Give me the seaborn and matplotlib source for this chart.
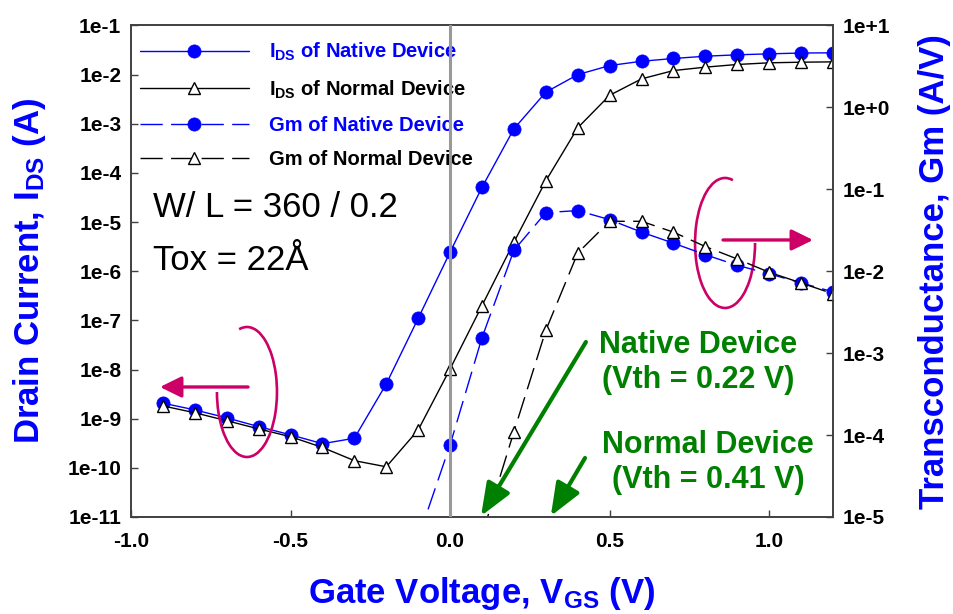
import numpy as np
import pandas as pd
import matplotlib
matplotlib.use("Agg")
import matplotlib.pyplot as plt
import seaborn as sns
from matplotlib.patches import Arc
from matplotlib.ticker import FixedLocator, FuncFormatter, NullLocator

# ---------------- data ----------------
vgs = [-0.9, -0.8, -0.7, -0.6, -0.5, -0.4, -0.3, -0.2, -0.1, 0.0, 0.1,
       0.2, 0.3, 0.4, 0.5, 0.6, 0.7, 0.8, 0.9, 1.0, 1.1, 1.2]
ids_native = [2.07e-9, 1.51e-9, 1.04e-9, 6.9e-10, 4.7e-10, 3.1e-10, 4.0e-10,
              5.1e-9, 1.1e-7, 2.45e-6, 5.1e-5, 7.9e-4, 4.4e-3, 1.0e-2,
              1.53e-2, 1.87e-2, 2.13e-2, 2.37e-2, 2.53e-2, 2.65e-2, 2.75e-2, 2.78e-2]
ids_normal = [1.82e-9, 1.32e-9, 9.1e-10, 6.2e-10, 4.3e-10, 2.6e-10, 1.4e-10,
              1.05e-10, 5.9e-10, 1.03e-8, 2.0e-7, 3.9e-6, 6.9e-5, 8.3e-4,
              3.8e-3, 8.2e-3, 1.21e-2, 1.42e-2, 1.61e-2, 1.74e-2, 1.79e-2, 1.82e-2]

vgs_gm_native = [-0.1, 0.0, 0.1, 0.2, 0.3, 0.4, 0.5, 0.6, 0.7, 0.8, 0.9, 1.0, 1.1, 1.2]
gm_native = [5.5e-6, 7.6e-5, 1.55e-3, 1.8e-2, 5.2e-2, 5.5e-2, 4.26e-2, 3.0e-2,
             2.2e-2, 1.59e-2, 1.18e-2, 9.3e-3, 7.2e-3, 5.6e-3]
vgs_gm_normal = [0.1, 0.2, 0.3, 0.4, 0.5, 0.6, 0.7, 0.8, 0.9, 1.0, 1.1, 1.2]
gm_normal = [6.0e-6, 1.1e-4, 1.9e-3, 1.67e-2, 4.07e-2, 4.07e-2, 3.0e-2, 2.0e-2,
             1.41e-2, 9.7e-3, 7.2e-3, 5.3e-3]

xticks = [-1.0, -0.5, 0.0, 0.5, 1.0]
left_exps = list(range(-11, 0))
right_exps = list(range(-5, 2))

labels = [r"$\mathbf{I_{DS}}$ of Native Device",
          r"$\mathbf{I_{DS}}$ of Normal Device",
          "Gm of Native Device",
          "Gm of Normal Device"]

# ---------------- style ----------------
sns.set_theme(style="white")
plt.rcParams["font.family"] = ["Liberation Sans", "DejaVu Sans"]
plt.rcParams["mathtext.fontset"] = "custom"
plt.rcParams["mathtext.rm"] = "Liberation Sans"
plt.rcParams["mathtext.bf"] = "Liberation Sans:bold"
plt.rcParams["mathtext.it"] = "Liberation Sans:italic"

BLUE = "#0000FF"
GREEN = "#008000"
MAG = "#CC0066"
SPINE = "#404040"

fig = plt.figure(figsize=(9.54, 6.14), dpi=100)
ax = fig.add_axes([0.1373, 0.158, 0.7359, 0.8005])
ax2 = ax.twinx()

df_n = pd.DataFrame({"vgs": vgs, "ids": ids_native})
df_o = pd.DataFrame({"vgs": vgs, "ids": ids_normal})
df_gn = pd.DataFrame({"vgs": vgs_gm_native, "gm": gm_native})
df_go = pd.DataFrame({"vgs": vgs_gm_normal, "gm": gm_normal})

ax.set_yscale("log")
ax2.set_yscale("log")

dash = (0, (16, 6))
sns.lineplot(data=df_n, x="vgs", y="ids", ax=ax, sort=False, errorbar=None, legend=False,
             color=BLUE, lw=1.0, marker="o", markersize=9.5, markerfacecolor=BLUE,
             markeredgecolor=BLUE, markeredgewidth=0.5, label=labels[0])
sns.lineplot(data=df_o, x="vgs", y="ids", ax=ax, sort=False, errorbar=None, legend=False,
             color="black", lw=1.0, marker="^", markersize=8.5, markerfacecolor="white",
             markeredgecolor="black", markeredgewidth=1.0, label=labels[1])
sns.lineplot(data=df_gn, x="vgs", y="gm", ax=ax2, sort=False, errorbar=None, legend=False,
             color=BLUE, lw=1.0, linestyle=dash, marker="o", markersize=9.5,
             markerfacecolor=BLUE, markeredgecolor=BLUE, markeredgewidth=0.5,
             label=labels[2])
sns.lineplot(data=df_go, x="vgs", y="gm", ax=ax2, sort=False, errorbar=None, legend=False,
             color="black", lw=1.0, linestyle=dash, marker="^", markersize=8.5,
             markerfacecolor="white", markeredgecolor="black", markeredgewidth=1.0,
             label=labels[3])

ax.set_xlim(-1.0, 1.2)
ax.set_ylim(1e-11, 1e-1)
ax2.set_ylim(1e-5, 1e1)


def sci(v, p):
    e = int(round(np.log10(v)))
    return "1e%+d" % e if e >= 0 else "1e%d" % e


fmt = FuncFormatter(sci)
ax.yaxis.set_major_locator(FixedLocator([10.0 ** e for e in left_exps]))
ax.yaxis.set_minor_locator(NullLocator())
ax.yaxis.set_major_formatter(fmt)
ax2.yaxis.set_major_locator(FixedLocator([10.0 ** e for e in right_exps]))
ax2.yaxis.set_minor_locator(NullLocator())
ax2.yaxis.set_major_formatter(fmt)
ax.set_xticks(xticks)
ax.set_xticklabels(["%.1f" % t for t in xticks])

for a in (ax, ax2):
    for s in a.spines.values():
        s.set_color(SPINE)
        s.set_linewidth(1.2)
ax.tick_params(axis="both", which="major", direction="in", length=5, width=1.0,
               color=SPINE, labelsize=15)
ax.tick_params(axis="y", pad=7, left=True)
ax.tick_params(axis="x", pad=11, bottom=True)
ax2.tick_params(axis="y", which="major", direction="in", length=5, width=1.0,
                color=SPINE, labelsize=15, pad=7, right=True)
for lab in ax.get_xticklabels() + ax.get_yticklabels() + ax2.get_yticklabels():
    lab.set_fontweight("bold")
    lab.set_color("black")

# axis labels
ax.set_xlabel(r"Gate Voltage, $\mathbf{V_{GS}}$ (V)", fontsize=25, fontweight="bold", color=BLUE)
ax.set_ylabel(r"Drain Current, $\mathbf{I_{DS}}$ (A)", fontsize=25, fontweight="bold", color=BLUE)
ax2.set_ylabel("Transconductance, Gm (A/V)", fontsize=25, fontweight="bold", color=BLUE,
               rotation=90)
ax.xaxis.set_label_coords(0.5, -0.119)
ax.yaxis.set_label_coords(-0.118, 0.5)
ax2.yaxis.set_label_coords(1.121, 0.5)

# zero line
ax2.axvline(0.0, color="#999999", lw=2.2, zorder=5)

# legend
h1, l1 = ax.get_legend_handles_labels()
h2, l2 = ax2.get_legend_handles_labels()
leg = ax.legend(h1 + h2, l1 + l2, loc="upper left", bbox_to_anchor=(0.0128, 0.969),
                frameon=False, handlelength=5.4, handletextpad=1.0,
                labelspacing=0.76, borderpad=0, borderaxespad=0,
                prop={"weight": "bold", "size": 14.5})
for txt, c in zip(leg.get_texts(), [BLUE, "black", BLUE, "black"]):
    txt.set_color(c)

# device text
ax.text(0.031, 0.610, "W/ L = 360 / 0.2", transform=ax.transAxes, fontsize=25,
        color="black", va="baseline", ha="left")
ax.text(0.032, 0.5025, "Tox = 22Å", transform=ax.transAxes, fontsize=25,
        color="black", va="baseline", ha="left")

# threshold annotations
ax2.text(0.8077, 0.3337, "Native Device", transform=ax.transAxes, fontsize=22,
         fontweight="bold", color=GREEN, ha="center", va="baseline")
ax2.text(0.8077, 0.2625, "(Vth = 0.22 V)", transform=ax.transAxes, fontsize=22,
         fontweight="bold", color=GREEN, ha="center", va="baseline")
ax2.text(0.8219, 0.1302, "Normal Device", transform=ax.transAxes, fontsize=22,
         fontweight="bold", color=GREEN, ha="center", va="baseline")
ax2.text(0.8219, 0.059, "(Vth = 0.41 V)", transform=ax.transAxes, fontsize=22,
         fontweight="bold", color=GREEN, ha="center", va="baseline")

garrow = dict(arrowstyle="-|>,head_length=1.0,head_width=0.4", mutation_scale=20,
              color=GREEN, lw=3.0, shrinkA=0, shrinkB=0)
ax2.annotate("", xy=(0.4986, 0.002), xytext=(0.648, 0.356),
             xycoords="axes fraction", textcoords="axes fraction", arrowprops=garrow)
ax2.annotate("", xy=(0.598, 0.002), xytext=(0.6467, 0.12),
             xycoords="axes fraction", textcoords="axes fraction", arrowprops=garrow)

# magenta direction markers
marrow = dict(arrowstyle="-|>,head_length=0.65,head_width=0.32", mutation_scale=20,
              color=MAG, lw=2.4, shrinkA=0, shrinkB=0)
ax2.annotate("", xy=(0.0413, 0.2645), xytext=(0.1667, 0.2645),
             xycoords="axes fraction", textcoords="axes fraction", arrowprops=marrow)
ax2.annotate("", xy=(0.9715, 0.5636), xytext=(0.8433, 0.5636),
             xycoords="axes fraction", textcoords="axes fraction", arrowprops=marrow)
ax2.add_patch(Arc((0.1652, 0.2543), 0.0855, 0.2645, theta1=180, theta2=95,
                  transform=ax.transAxes, color=MAG, lw=1.9))
ax2.add_patch(Arc((0.8462, 0.5575), 0.0855, 0.2645, theta1=85, theta2=360,
                  transform=ax.transAxes, color=MAG, lw=1.9))

fig.savefig("out.png", dpi=100)
